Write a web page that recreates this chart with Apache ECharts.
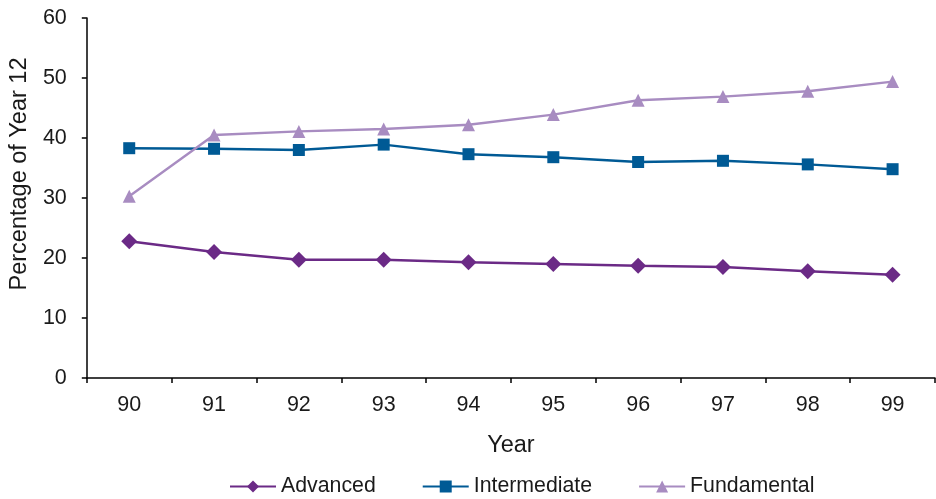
<!DOCTYPE html>
<html>
<head>
<meta charset="utf-8">
<script src="https://cdn.jsdelivr.net/npm/echarts@6/dist/echarts.min.js"></script>
<style>
  html, body { margin: 0; padding: 0; background: #fff; }
  #chart { width: 936px; height: 499px; }
</style>
</head>
<body>
<div id="chart"></div>
<script>
// Share of Year 12 students by mathematics level, 1990–1999
const years = ['90', '91', '92', '93', '94', '95', '96', '97', '98', '99'];
const advanced = [22.8, 21.0, 19.7, 19.7, 19.3, 19.0, 18.7, 18.5, 17.8, 17.2];
const intermediate = [38.3, 38.2, 38.0, 38.9, 37.3, 36.8, 36.0, 36.2, 35.6, 34.8];
const fundamental = [30.3, 40.5, 41.1, 41.5, 42.2, 43.9, 46.3, 46.9, 47.8, 49.4];

const font = 'Liberation Sans, Helvetica, Arial, sans-serif';
const textColor = '#1a1a1a';

const chart = echarts.init(document.getElementById('chart'));

function lineSeries(name, data, color, symbol, size) {
  return {
    name: name,
    type: 'line',
    data: data,
    symbol: symbol,
    symbolSize: size,
    showSymbol: true,
    lineStyle: { color: color, width: 2.4 },
    itemStyle: { color: color },
    emphasis: { disabled: true },
    animation: false
  };
}

chart.setOption({
  animation: false,
  grid: { left: 85, right: 1, top: 18, bottom: 121, containLabel: false },
  legend: {
    bottom: -3,
    left: 224,
    itemWidth: 46,
    itemHeight: 15,
    itemGap: 46,
    textStyle: { fontFamily: font, fontSize: 21.3, color: textColor },
    data: ['Advanced', 'Intermediate', 'Fundamental']
  },
  xAxis: {
    type: 'category',
    data: years,
    boundaryGap: true,
    name: 'Year',
    nameLocation: 'middle',
    nameGap: 56,
    nameTextStyle: { fontFamily: font, fontSize: 23.5, color: textColor },
    axisLine: { lineStyle: { color: '#000', width: 1.5 } },
    axisTick: { show: true, length: 5, lineStyle: { color: '#000', width: 1.5 } },
    axisLabel: { fontFamily: font, fontSize: 21.5, color: textColor, margin: 16 },
    splitLine: { show: false }
  },
  yAxis: {
    type: 'value',
    min: 0,
    max: 60,
    interval: 10,
    name: 'Percentage of Year 12',
    nameLocation: 'middle',
    nameGap: 53,
    nameTextStyle: { fontFamily: font, fontSize: 23.5, color: textColor, padding: [0, 0, 0, 48] },
    axisLine: { show: true, lineStyle: { color: '#000', width: 1.5 } },
    axisTick: { show: true, length: 5, lineStyle: { color: '#000', width: 1.5 } },
    axisLabel: { fontFamily: font, fontSize: 21.5, color: textColor, margin: 20 },
    splitLine: { show: false }
  },
  series: [
    lineSeries('Advanced', advanced, '#6b2a86', 'diamond', 16),
    lineSeries('Intermediate', intermediate, '#005a95', 'rect', 12),
    lineSeries('Fundamental', fundamental, '#a88cc1', 'triangle', 13)
  ]
});
</script>
</body>
</html>
